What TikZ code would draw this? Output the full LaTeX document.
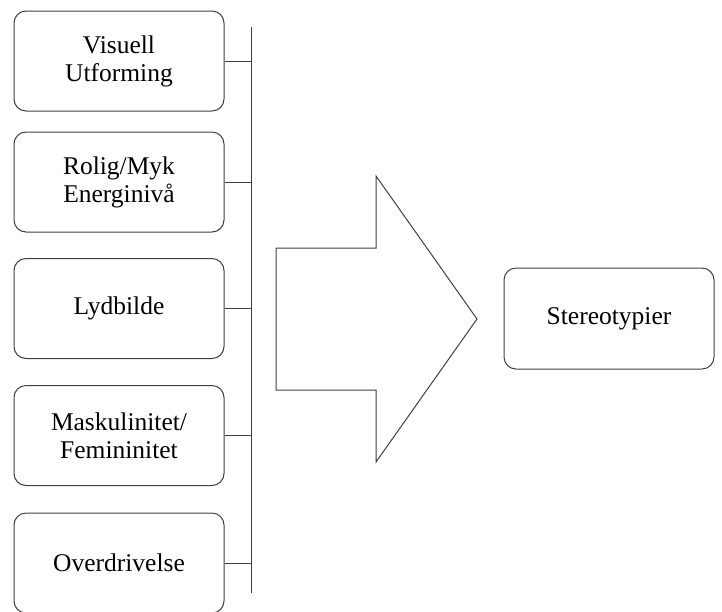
\documentclass[tikz,border=0pt]{standalone}
\usepackage{fontspec}
\setmainfont{Liberation Serif}
\usepackage{tikz}
\colorlet{boxline}{black!75}

\begin{document}
\begin{tikzpicture}[x=1pt, y=-1pt,
    factor/.style={draw=boxline, line width=1pt, rounded corners=12pt, minimum width=210pt, minimum height=100pt, align=center, font=\fontsize{25.5}{28}\selectfont},
    link/.style={draw=boxline, line width=1pt}]
    \useasboundingbox (0,0) rectangle (722,611);

    % Factor boxes on the left
    \node[factor] (visuell) at (119, 61) {Visuell\\Utforming};
    \node[factor] (rolig) at (119, 182) {Rolig/Myk\\Energinivå};
    \node[factor] (lyd) at (119, 308.5) {Lydbilde};
    \node[factor] (kjonn) at (119, 435.5) {Maskulinitet/\\Femininitet};
    \node[factor] (overdriv) at (119, 563) {Overdrivelse};

    % Collecting line
    \coordinate (top) at (251, 27);
    \coordinate (bottom) at (251, 593);
    \draw[link] (top) -- (bottom);
    \draw[link] (visuell.east) -- (visuell.east -| top);
    \draw[link] (rolig.east) -- (rolig.east -| top);
    \draw[link] (lyd.east) -- (lyd.east -| top);
    \draw[link] (kjonn.east) -- (kjonn.east -| top);
    \draw[link] (overdriv.east) -- (overdriv.east -| top);

    % Big arrow
    \draw[link, line join=miter] (276, 248) -- (376, 248) -- (376, 176) -- (477, 319)
        -- (376, 462) -- (376, 390) -- (276, 390) -- cycle;

    % Result
    \node[factor, minimum height=101pt] (stereo) at (609, 318.5) {Stereotypier};
\end{tikzpicture}
\end{document}
